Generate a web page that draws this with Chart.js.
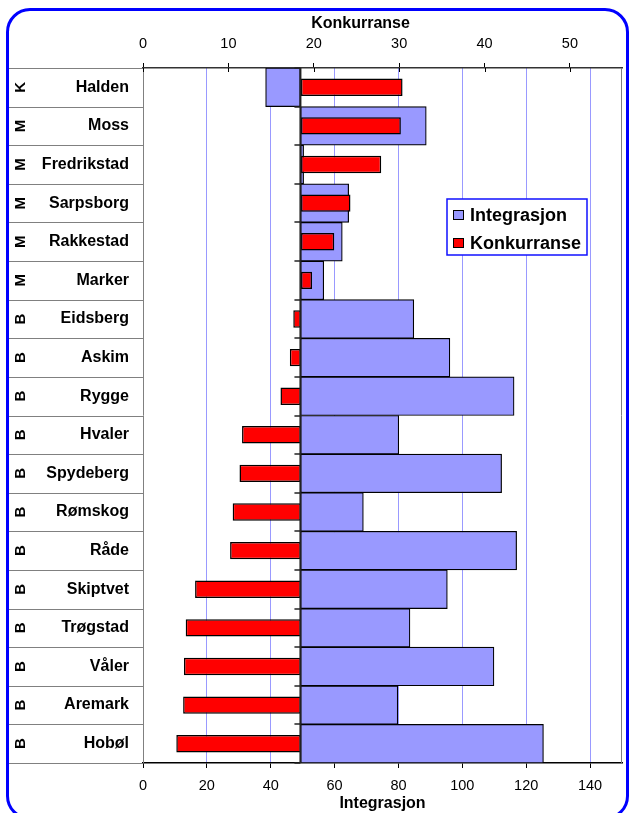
<!DOCTYPE html>
<html>
<head>
<meta charset="utf-8">
<script src="https://cdn.jsdelivr.net/npm/chart.js@4"></script>
<style>
  body { margin: 0; background: #fff; }
  #wrap { position: relative; width: 630px; height: 813px; overflow: hidden; }
  #frame {
    position: absolute; left: 6px; top: 8px; width: 623px; height: 812px;
    box-sizing: border-box; border: 3px solid #0000ff; border-radius: 24px;
    pointer-events: none;
  }
</style>
</head>
<body>
<div id="wrap">
  <canvas id="myChart" width="630" height="813"></canvas>
  <div id="frame"></div>
</div>
<script>
const municipalities = ["Halden", "Moss", "Fredrikstad", "Sarpsborg", "Rakkestad", "Marker",
  "Eidsberg", "Askim", "Rygge", "Hvaler", "Spydeberg", "Rømskog", "Råde", "Skiptvet",
  "Trøgstad", "Våler", "Aremark", "Hobøl"];
const groups = ["K", "M", "M", "M", "M", "M", "B", "B", "B", "B", "B", "B", "B", "B", "B", "B", "B", "B"];
const integrasjon = [38.4, 88.7, 50.3, 64.4, 62.4, 56.6, 84.8, 96.1, 116.2, 80.1, 112.3, 69.0,
  117.0, 95.3, 83.6, 109.9, 79.8, 125.4];
const konkurranse = [30.4, 30.2, 27.9, 24.3, 22.4, 19.8, 17.6, 17.2, 16.1, 11.6, 11.3, 10.5,
  10.2, 6.1, 5.0, 4.8, 4.7, 3.9];
// bars start from where the category axis crosses
const integrasjonBase = 49.3;
const konkurranseBase = 18.5;

const FONT = "'Liberation Sans', Arial, sans-serif";

// left label column, centre axis line, titles and the legend box
const tablePlugin = {
  id: "table",
  afterDatasetsDraw(chart) {
    const { ctx, chartArea: a, scales } = chart;
    const n = municipalities.length;
    const band = (a.bottom - a.top) / n;
    const xc = scales.x.getPixelForValue(integrasjonBase);
    ctx.save();
    // row separators in the label column
    ctx.strokeStyle = "#808080";
    ctx.lineWidth = 1;
    for (let i = 0; i <= n; i++) {
      const yy = Math.round(a.top + i * band) + 0.5;
      ctx.beginPath();
      ctx.moveTo(8, yy);
      ctx.lineTo(a.left, yy);
      ctx.stroke();
    }
    // plot side borders
    ctx.beginPath();
    ctx.moveTo(a.left + 0.5, a.top);
    ctx.lineTo(a.left + 0.5, a.bottom);
    ctx.moveTo(a.right - 0.5, a.top);
    ctx.lineTo(a.right - 0.5, a.bottom);
    ctx.stroke();
    // category axis through the bases
    ctx.strokeStyle = "#222";
    ctx.lineWidth = 2;
    ctx.beginPath();
    ctx.moveTo(xc, a.top);
    ctx.lineTo(xc, a.bottom);
    ctx.stroke();
    ctx.lineWidth = 1.5;
    for (let i = 0; i <= n; i++) {
      const yy = Math.round(a.top + i * band);
      ctx.beginPath();
      ctx.moveTo(xc - 6, yy);
      ctx.lineTo(xc, yy);
      ctx.stroke();
    }
    // top axis ticks cross the axis line
    ctx.strokeStyle = "#000";
    ctx.lineWidth = 1;
    scales.x2.ticks.forEach((t) => {
      const xx = Math.round(scales.x2.getPixelForValue(t.value)) + 0.5;
      ctx.beginPath();
      ctx.moveTo(xx, a.top);
      ctx.lineTo(xx, a.top + 4);
      ctx.stroke();
    });
    // group letters
    ctx.fillStyle = "#000";
    ctx.font = "bold 15px " + FONT;
    ctx.textAlign = "center";
    ctx.textBaseline = "middle";
    groups.forEach((g, i) => {
      ctx.save();
      ctx.translate(20, a.top + (i + 0.5) * band);
      ctx.rotate(-Math.PI / 2);
      ctx.fillText(g, 0, 1);
      ctx.restore();
    });
    // top title
    ctx.font = "bold 16px " + FONT;
    ctx.fillText("Konkurranse", (a.left + a.right) / 2 - 22, 24);
    ctx.restore();
  },
  afterDraw(chart) {
    const { ctx } = chart;
    const ds = chart.data.datasets;
    ctx.save();
    ctx.fillStyle = "#fff";
    ctx.fillRect(447, 199, 140, 56);
    ctx.strokeStyle = "#1010ff";
    ctx.lineWidth = 1.5;
    ctx.strokeRect(447, 199, 140, 56);
    ctx.font = "bold 18px " + FONT;
    ctx.textBaseline = "middle";
    ctx.textAlign = "left";
    ds.forEach((d, i) => {
      const cy = 215 + i * 28;
      ctx.fillStyle = d.backgroundColor;
      ctx.fillRect(453, cy - 5, 11, 10);
      ctx.strokeStyle = "#000";
      ctx.lineWidth = 1;
      ctx.strokeRect(453.5, cy - 4.5, 10, 9);
      ctx.fillStyle = "#000";
      ctx.fillText(d.label, 470, cy + 1);
    });
    ctx.restore();
  },
};

const data = {
  labels: municipalities,
  datasets: [
    {
      label: "Integrasjon",
      data: integrasjon.map((v) => [integrasjonBase, v]),
      xAxisID: "x",
      backgroundColor: "#9999ff",
      borderColor: "#000",
      borderWidth: 1.2,
      borderSkipped: false,
      barPercentage: 1,
      categoryPercentage: 1,
      grouped: false,
      order: 1,
    },
    {
      label: "Konkurranse",
      data: konkurranse.map((v) => [konkurranseBase, v]),
      xAxisID: "x2",
      backgroundColor: "#ff0000",
      borderColor: "#000",
      borderWidth: 1.5,
      borderSkipped: false,
      barPercentage: 0.45,
      categoryPercentage: 1,
      grouped: false,
      order: 0,
    },
  ],
};

const config = {
  type: "bar",
  data: data,
  options: {
    indexAxis: "y",
    responsive: false,
    animation: false,
    layout: { padding: { left: 8, right: 8, top: 0, bottom: 0 } },
    plugins: {
      legend: { display: false },
      tooltip: { enabled: false },
    },
    scales: {
      x: {
        position: "bottom",
        min: 0,
        max: 150,
        afterFit: (s) => { s.height = 50; },
        ticks: {
          stepSize: 20,
          includeBounds: false,
          padding: 9,
          color: "#000",
          font: { family: FONT, size: 14.5 },
        },
        grid: {
          color: (c) => (c.tick && c.tick.value === 0 ? "rgba(0,0,0,0)" : "#9999ff"),
          tickColor: "#000",
          tickLength: 5,
          lineWidth: 1,
        },
        border: { color: "#000", width: 1.5 },
        title: {
          display: true,
          text: "Integrasjon",
          color: "#000",
          padding: 0,
          font: { family: FONT, size: 16, weight: "bold" },
        },
      },
      x2: {
        position: "top",
        min: 0,
        max: 56.1,
        afterFit: (s) => { s.height = 68; },
        ticks: {
          stepSize: 10,
          includeBounds: false,
          padding: 10,
          color: "#000",
          font: { family: FONT, size: 14.5 },
        },
        grid: {
          drawOnChartArea: false,
          tickColor: "#000",
          tickLength: 5,
        },
        border: { color: "#333", width: 1.5 },
      },
      y: {
        position: "left",
        afterFit: (s) => { s.width = 135; },
        grid: { display: false, drawTicks: false },
        border: { display: false },
        ticks: {
          autoSkip: false,
          padding: 14,
          color: "#000",
          font: { family: FONT, size: 16, weight: "bold" },
        },
      },
    },
  },
  plugins: [tablePlugin],
};

var myChart = new Chart(document.getElementById("myChart"), config);
</script>
</body>
</html>
